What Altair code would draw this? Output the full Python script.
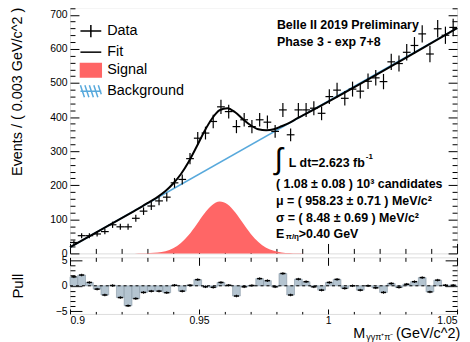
import math
import altair as alt
import pandas as pd

FONT = "Liberation Sans"

# ---------------- data ----------------
bin_width = 0.003
x_min, x_max = 0.9, 1.05
counts = [32, 52, 52, 57, 64, 84, 78, 78, 103, 124,
          139, 154, 165, 207, 217, 278, 338, 353, 387, 430,
          416, 372, 392, 372, 392, 385, 358, 421, 348, 421,
          421, 426, 411, 460, 479, 455, 482, 476, 505, 515,
          504, 562, 557, 590, 610, 644, 585, 659, 640, 663]
pulls = [1.75, 2.1, 0.65, -0.65, -1.8, 0.05, -2.3, -3.9, -2.5, -1.3,
         -1.05, -1.05, -1.35, 0.1, -1.05, 0.1, 1.2, -0.2, -0.3, 0.65,
         0.1, -2.0, -0.2, 0.05, 1.4, 1.0, -0.2, 2.4, -1.8, 1.3,
         0.8, -0.2, -0.85, 0.65, 1.25, -0.5, 0.0, -0.85, 0.0, -0.4,
         -1.3, 0.45, -0.3, 0.3, 0.8, 1.6, -1.2, 1.1, 0.1, 0.1]

fit_mass = [0.900, 0.925, 0.928, 0.931, 0.934, 0.937, 0.940, 0.943, 0.946, 0.949,
            0.952, 0.955, 0.958, 0.961, 0.964, 0.967, 0.970, 0.973, 0.976, 0.979,
            0.982, 0.985, 0.988, 0.991, 1.050]
fit_values = [18, 125, 138, 152, 166, 183, 205, 233, 269, 312,
              357, 395, 420, 426, 414, 394, 376, 364, 361, 364,
              373, 383, 396, 408, 661]

signal_mass = [0.900, 0.925, 0.928, 0.931, 0.934, 0.937, 0.940, 0.943, 0.946, 0.949,
               0.952, 0.955, 0.958, 0.961, 0.964, 0.967, 0.970, 0.973, 0.976, 0.979,
               0.982, 0.985, 0.988, 0.991, 1.050]
signal_values = [0, 0, 0.3, 0.9, 2.6, 6.6, 15.1, 30.4, 53.7, 84.1,
                 116, 141, 152, 144, 120.5, 89, 58, 33.4, 16.9, 7.6,
                 3.0, 1.0, 0.3, 0, 0]

bg_mass = [0.900, 1.050]
bg_values = [18, 661]

legend_labels = ["Data", "Fit", "Signal", "Background"]
legend_paths = [
    "M-1.05,0H1.05M0,-0.62V0.62",
    "M-1.05,0H1.05",
    "M-1.05,-0.68H1.05V0.68H-1.05Z",
    "M-1.05,0H1.05M-1.05,-0.6L-0.65,0.6M-0.6,-0.6L-0.2,0.6M-0.15,-0.6L0.25,0.6M0.3,-0.6L0.7,0.6M0.75,-0.6L1.05,0.3",
]
legend_fills = ["transparent", "transparent", "#ff6666", "transparent"]
legend_strokes = ["black", "black", "#ff6666", "#58a9dc"]

x_major = [0.9, 0.95, 1.0, 1.05]
x_minor = [0.91, 0.92, 0.93, 0.94, 0.96, 0.97, 0.98, 0.99, 1.01, 1.02, 1.03, 1.04]
y_major = [0, 100, 200, 300, 400, 500, 600, 700]
y_minor = [v for v in range(0, 721, 20) if v % 100]
p_major = [-5, 0, 5]
p_minor = [-4, -3, -2, -1, 1, 2, 3, 4]

# ---------------- tables ----------------
n_bins = len(counts)
centers = [round(x_min + bin_width * (i + 0.5), 5) for i in range(n_bins)]
df = pd.DataFrame({"m": centers, "n": counts, "pull": pulls})
df["lo"] = df["m"] - bin_width / 2
df["hi"] = df["m"] + bin_width / 2
df["err"] = [math.sqrt(v) for v in counts]
df["ylo"] = df["n"] - df["err"]
df["yhi"] = df["n"] + df["err"]
df["plo"] = df["m"] - bin_width * 0.33
df["phi"] = df["m"] + bin_width * 0.33
df["pl"] = df["pull"] - 0.25
df["ph"] = df["pull"] + 0.25

fit_df = pd.DataFrame({"m": fit_mass, "v": fit_values})
sig_df = pd.DataFrame({"m": signal_mass, "v": signal_values})
bg_df = pd.DataFrame({"m": bg_mass, "v": bg_values})
leg_df = pd.DataFrame({"label": legend_labels})
zero_df = pd.DataFrame({"x0": [x_min], "x1": [x_max], "z": [0]})

xs = alt.Scale(domain=[x_min, x_max], nice=False, zero=False)
ys = alt.Scale(domain=[0, 722], nice=False, zero=False)
ps = alt.Scale(domain=[-5.5, 5.55], nice=False, zero=False)


def tick_axis(orient, values, size):
    return alt.Axis(orient=orient, values=values, tickSize=size, offset=-size,
                    labels=False, domain=False, grid=False, ticks=True,
                    tickColor="black", tickWidth=1, title=None)


def text_layer(txt, x, y, size, weight="bold", align="left"):
    return alt.Chart(pd.DataFrame({"t": [txt]})).mark_text(
        align=align, baseline="middle", font=FONT, fontSize=size,
        fontWeight=weight, color="black"
    ).encode(text="t:N", x=alt.value(x), y=alt.value(y))


W = 390
H_TOP = 248
H_BOT = 57
TITLE_CX = -52.5   # centre of the left titles, relative to the plot's left edge

# ---------------- top panel ----------------
y_label_axis = alt.Axis(orient="left", values=y_major, tickSize=9, offset=-9,
                        domain=False, grid=False, ticks=True, tickColor="black",
                        labels=True, labelFont=FONT, labelFontSize=10.5,
                        labelColor="black", labelPadding=3,
                        title="Events / ( 0.003 GeV/c^2 )", titleFont=FONT,
                        titleFontSize=14.5, titleFontWeight="normal", titleColor="black",
                        titleAngle=270, titleAlign="right", titleBaseline="middle",
                        titleX=TITLE_CX - 9, titleY=0)

sig = alt.Chart(sig_df).mark_area(color="#ff6666", interpolate="monotone").encode(
    x=alt.X("m:Q", scale=xs, axis=tick_axis("bottom", x_major, 10)),
    y=alt.Y("v:Q", scale=ys, axis=y_label_axis),
)
bg = alt.Chart(bg_df).mark_line(color="#58a9dc", strokeWidth=1.5).encode(
    x=alt.X("m:Q", scale=xs, axis=tick_axis("bottom", x_minor, 5)),
    y=alt.Y("v:Q", scale=ys, axis=tick_axis("left", y_minor, 5)),
)
fit = alt.Chart(fit_df).mark_line(color="black", strokeWidth=2, interpolate="monotone").encode(
    x=alt.X("m:Q", scale=xs, axis=None),
    y=alt.Y("v:Q", scale=ys, axis=tick_axis("right", y_major, 9)),
)
err_v = alt.Chart(df).mark_rule(color="black", strokeWidth=1.2).encode(
    x=alt.X("m:Q", scale=xs, axis=None),
    y=alt.Y("ylo:Q", scale=ys, axis=tick_axis("right", y_minor, 5)),
    y2="yhi:Q",
)
err_h = alt.Chart(df).mark_rule(color="black", strokeWidth=1.2).encode(
    x=alt.X("lo:Q", scale=xs, axis=None),
    x2="hi:Q",
    y=alt.Y("n:Q", scale=ys, axis=None),
)

leg_def = alt.Legend(orient="none", legendX=10, legendY=13, title=None,
                     symbolSize=400, symbolStrokeWidth=1.5, symbolOpacity=1,
                     labelFont=FONT, labelFontSize=14.5, labelColor="black",
                     labelOffset=5.5, rowPadding=0.2, padding=0)
leg = alt.Chart(leg_df).mark_point(opacity=0).encode(
    shape=alt.Shape("label:N", scale=alt.Scale(domain=legend_labels, range=legend_paths), legend=leg_def),
    fill=alt.Fill("label:N", scale=alt.Scale(domain=legend_labels, range=legend_fills), legend=leg_def),
    stroke=alt.Stroke("label:N", scale=alt.Scale(domain=legend_labels, range=legend_strokes), legend=leg_def),
)

top_texts = [
    text_layer("Belle II 2019 Preliminary", 208.5, 17.7, 12.5),
    text_layer("Phase 3 - exp 7+8", 208.5, 35.3, 12.5),
    text_layer("∫", 206, 154, 30, weight="normal"),
    text_layer("L dt=2.623 fb", 220.5, 156.7, 12.5),
    text_layer("-1", 298, 150.5, 8),
    text_layer("( 1.08 ± 0.08 ) 10³ candidates", 207.5, 178.3, 12.5),
    text_layer("μ = ( 958.23 ± 0.71 ) MeV/c²", 207.5, 195, 12.5),
    text_layer("σ = ( 8.48 ± 0.69 ) MeV/c²", 207.5, 212.7, 12.5),
    text_layer("E", 207.5, 228.3, 12.5),
    text_layer("π/η", 217.5, 231.5, 8),
    text_layer(">0.40 GeV", 230.5, 228.3, 12.5),
]

top = alt.layer(sig, bg, fit, err_v, err_h, leg, *top_texts).resolve_axis(
    x="independent", y="independent"
).properties(width=W, height=H_TOP)

# ---------------- pull panel ----------------
p_label_axis = alt.Axis(orient="left", values=p_major, tickSize=12, offset=-12,
                        domain=False, grid=False, ticks=True, tickColor="black",
                        labels=True, labelFont=FONT, labelFontSize=10.5,
                        labelColor="black", labelPadding=3,
                        title="Pull", titleFont=FONT, titleFontSize=15,
                        titleFontWeight="normal", titleColor="black",
                        titleAngle=270, titleAlign="center", titleBaseline="middle",
                        titleX=TITLE_CX - 12, titleY=H_BOT / 2)
x_label_axis = alt.Axis(orient="bottom", values=x_major, tickSize=5, offset=-5,
                        domain=False, grid=False, ticks=True, tickColor="black",
                        labels=True, labelFont=FONT, labelFontSize=10.5,
                        labelColor="black", labelPadding=1.5, format="~g",
                        labelFlush=True, title=None)

bars = alt.Chart(df).mark_bar(color="#b4c4d0", stroke="#8596a3", strokeWidth=0.6).encode(
    x=alt.X("lo:Q", scale=xs, axis=x_label_axis),
    x2="hi:Q",
    y=alt.Y("pull:Q", scale=ps, axis=p_label_axis),
    y2=alt.datum(0),
)
marks = alt.Chart(df).mark_rule(color="black", strokeWidth=1.5).encode(
    x=alt.X("plo:Q", scale=xs, axis=tick_axis("bottom", x_minor, 2.5)),
    x2="phi:Q",
    y=alt.Y("pull:Q", scale=ps, axis=tick_axis("left", p_minor, 5)),
)
verr = alt.Chart(df).mark_rule(color="black", strokeWidth=1).encode(
    x=alt.X("m:Q", scale=xs, axis=tick_axis("top", x_major, 8)),
    y=alt.Y("pl:Q", scale=ps, axis=tick_axis("right", p_major, 12)),
    y2="ph:Q",
)
zero = alt.Chart(zero_df).mark_rule(color="black", strokeWidth=1, strokeDash=[3, 3]).encode(
    x=alt.X("x0:Q", scale=xs, axis=tick_axis("top", x_minor, 4)),
    x2="x1:Q",
    y=alt.Y("z:Q", scale=ps, axis=tick_axis("right", p_minor, 5)),
)

bot_texts = [
    text_layer("M", 285.5, 77, 14.5, weight="normal"),
    text_layer("γγπ⁺π⁻", 298.5, 80.5, 9, weight="normal"),
    text_layer("(GeV/c^2)", 328.5, 77, 14.5, weight="normal"),
]

bottom = alt.layer(bars, zero, marks, verr, *bot_texts).resolve_axis(
    x="independent", y="independent"
).properties(width=W, height=H_BOT)

chart = alt.vconcat(top, bottom, spacing=4, bounds="flush").properties(
    padding={"left": 1.5, "top": -3, "right": 0, "bottom": 0}
).configure_view(stroke="black", strokeWidth=1.5).configure(font=FONT)

chart.save("out.html", embed_options={"renderer": "svg", "actions": False})
